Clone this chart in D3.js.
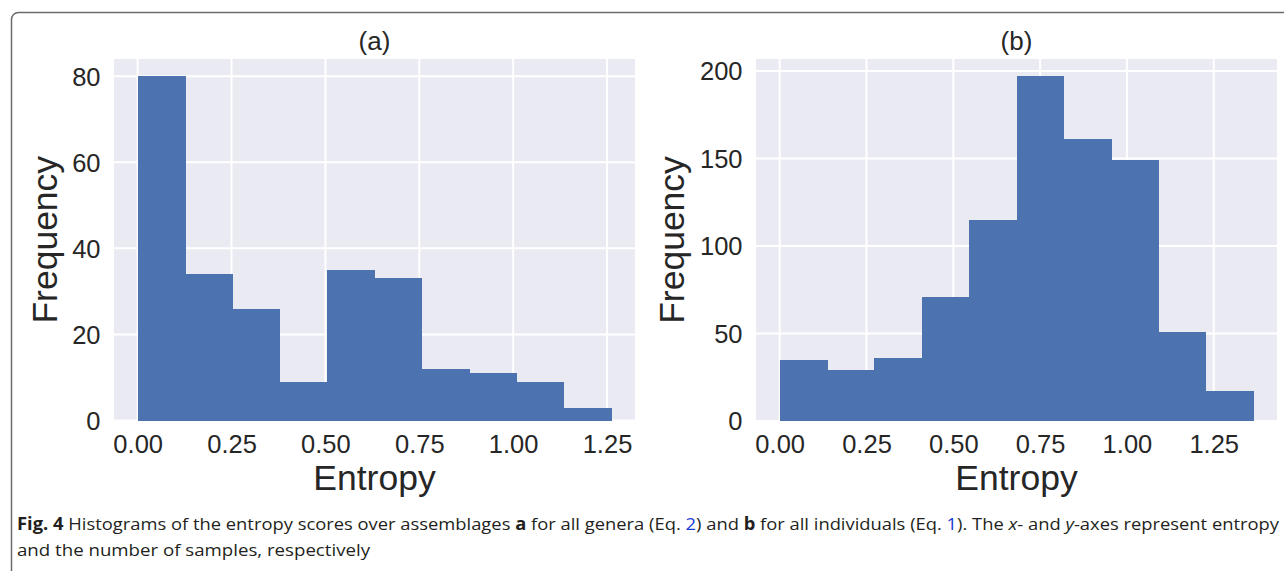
<!DOCTYPE html>
<html>
<head>
<meta charset="utf-8">
<script src="https://cdn.jsdelivr.net/npm/d3@7"></script>
<style>
    body { margin: 0; background: #fff; }
    svg { display: block; }
</style>
</head>
<body>
<div id="wrapper"></div>
<script>
// counts per bin (10 bins each)
const countsGenera = [80, 34, 26, 9, 35, 33, 12, 11, 9, 3];
const countsIndividuals = [35, 29, 36, 71, 115, 197, 161, 149, 51, 17];
// range of entropy values covered by the bins
const entropyRangeGenera = [0, 1.2615];
const entropyRangeIndividuals = [0, 1.364];
const xTicks = [0, 0.25, 0.5, 0.75, 1.0, 1.25];
const yTicksGenera = [0, 20, 40, 60, 80];
const yTicksIndividuals = [0, 50, 100, 150, 200];
const panelTitles = ["(a)", "(b)"];

function buildPlot() {
    const dimension = { width: 1284, height: 571 };

    const svg = d3.select("#wrapper").append("svg")
        .attr("width", dimension.width)
        .attr("height", dimension.height);

    // figure frame (top-left corner only visible)
    svg.append("rect")
        .attr("x", 11.5).attr("y", 12.5)
        .attr("width", 1400).attr("height", 700)
        .attr("rx", 7)
        .attr("fill", "none")
        .attr("stroke", "#6b6b6b")
        .attr("stroke-width", 1.5);

    function hist(opt) {
        const nBins = opt.counts.length;
        const step = (opt.range[1] - opt.range[0]) / nBins;
        const bins = opt.counts.map((c, i) => ({
            x0: opt.range[0] + i * step,
            x1: opt.range[0] + (i + 1) * step,
            count: c
        }));
        const span = opt.range[1] - opt.range[0];

        const xScaler = d3.scaleLinear()
            .domain([opt.range[0] - span * 0.05, opt.range[1] + span * 0.05])
            .range([opt.left, opt.right]);

        const yScaler = d3.scaleLinear()
            .domain([0, d3.max(opt.counts) * 1.05])
            .range([opt.bottom, opt.top]);

        const g = svg.append("g");

        g.append("rect")
            .attr("x", opt.left).attr("y", opt.top)
            .attr("width", opt.right - opt.left)
            .attr("height", opt.bottom - opt.top)
            .attr("fill", "#eaeaf2");

        // grid
        g.append("g").selectAll("line")
            .data(opt.xTicks)
            .join("line")
            .attr("x1", d => xScaler(d)).attr("x2", d => xScaler(d))
            .attr("y1", opt.top).attr("y2", opt.bottom)
            .attr("stroke", "#fff").attr("stroke-width", 2);

        g.append("g").selectAll("line")
            .data(opt.yTicks)
            .join("line")
            .attr("x1", opt.left).attr("x2", opt.right)
            .attr("y1", d => yScaler(d)).attr("y2", d => yScaler(d))
            .attr("stroke", "#fff").attr("stroke-width", 2);

        // bars
        g.append("g")
            .attr("shape-rendering", "crispEdges")
            .selectAll("rect")
            .data(bins)
            .join("rect")
            .attr("x", d => xScaler(d.x0))
            .attr("width", d => xScaler(d.x1) - xScaler(d.x0) + 0.5)
            .attr("y", d => yScaler(d.count))
            .attr("height", d => yScaler(0) - yScaler(d.count))
            .attr("fill", "#4c72b0");

        // axes (no tick marks, labels only)
        const xAxis = g.append("g")
            .attr("transform", `translate(0, ${opt.bottom})`)
            .call(d3.axisBottom(xScaler).tickValues(opt.xTicks)
                .tickFormat(d3.format(".2f")).tickSize(0).tickPadding(32));
        const yAxis = g.append("g")
            .attr("transform", `translate(${opt.left}, 0)`)
            .call(d3.axisLeft(yScaler).tickValues(opt.yTicks).tickSize(0).tickPadding(13.5));

        [xAxis, yAxis].forEach(a => {
            a.select(".domain").remove();
            a.selectAll("text")
                .attr("fill", "#262626")
                .style("font-family", "'Liberation Sans', Arial, sans-serif")
                .style("font-size", "25.5px");
        });
        yAxis.selectAll("text").attr("dy", "0.35em");
        xAxis.selectAll("text").attr("dy", 0);

        const cx = (opt.left + opt.right) / 2;
        g.append("text")
            .attr("x", cx).attr("y", 49.5)
            .attr("text-anchor", "middle")
            .attr("fill", "#262626")
            .style("font-family", "'Liberation Sans', Arial, sans-serif")
            .style("font-size", "26px")
            .text(opt.title);

        g.append("text")
            .attr("x", cx).attr("y", 490)
            .attr("text-anchor", "middle")
            .attr("fill", "#262626")
            .style("font-family", "'Liberation Sans', Arial, sans-serif")
            .style("font-size", "35.5px")
            .text("Entropy");

        g.append("text")
            .attr("transform", `translate(${opt.ylabelX}, ${(opt.top + opt.bottom) / 2}) rotate(-90)`)
            .attr("text-anchor", "middle")
            .attr("fill", "#262626")
            .style("font-family", "'Liberation Sans', Arial, sans-serif")
            .style("font-size", "35.5px")
            .text("Frequency");
    }

    hist({
        counts: countsGenera, range: entropyRangeGenera,
        xTicks: xTicks, yTicks: yTicksGenera, title: panelTitles[0],
        left: 114, right: 635, top: 59, bottom: 420.5, ylabelX: 57
    });

    hist({
        counts: countsIndividuals, range: entropyRangeIndividuals,
        xTicks: xTicks, yTicks: yTicksIndividuals, title: panelTitles[1],
        left: 756, right: 1277, top: 59, bottom: 421, ylabelX: 684
    });

    // caption
    const captionFont = "'Open Sans', 'Noto Sans', sans-serif";
    const line1 = svg.append("text")
        .attr("x", 17).attr("y", 530)
        .attr("fill", "#231f20")
        .style("font-family", captionFont)
        .style("font-size", "17px")
        .attr("textLength", 1262)
        .attr("lengthAdjust", "spacingAndGlyphs");
    const parts = [
        ["Fig. 4", "bold"], [" Histograms of the entropy scores over assemblages "],
        ["a", "bold"], [" for all genera (Eq. "], ["2", "link"], [") and "],
        ["b", "bold"], [" for all individuals (Eq. "], ["1", "link"], ["). The "],
        ["x", "italic"], ["- and "], ["y", "italic"], ["-axes represent entropy"]
    ];
    parts.forEach(p => {
        const t = line1.append("tspan").text(p[0]);
        if (p[1] === "bold") t.style("font-weight", "bold");
        if (p[1] === "italic") t.style("font-style", "italic");
        if (p[1] === "link") t.attr("fill", "#1a3bd6");
    });

    svg.append("text")
        .attr("x", 17).attr("y", 556)
        .attr("fill", "#231f20")
        .style("font-family", captionFont)
        .style("font-size", "17px")
        .attr("textLength", 353)
        .attr("lengthAdjust", "spacingAndGlyphs")
        .text("and the number of samples, respectively");
}

buildPlot();
</script>
</body>
</html>
